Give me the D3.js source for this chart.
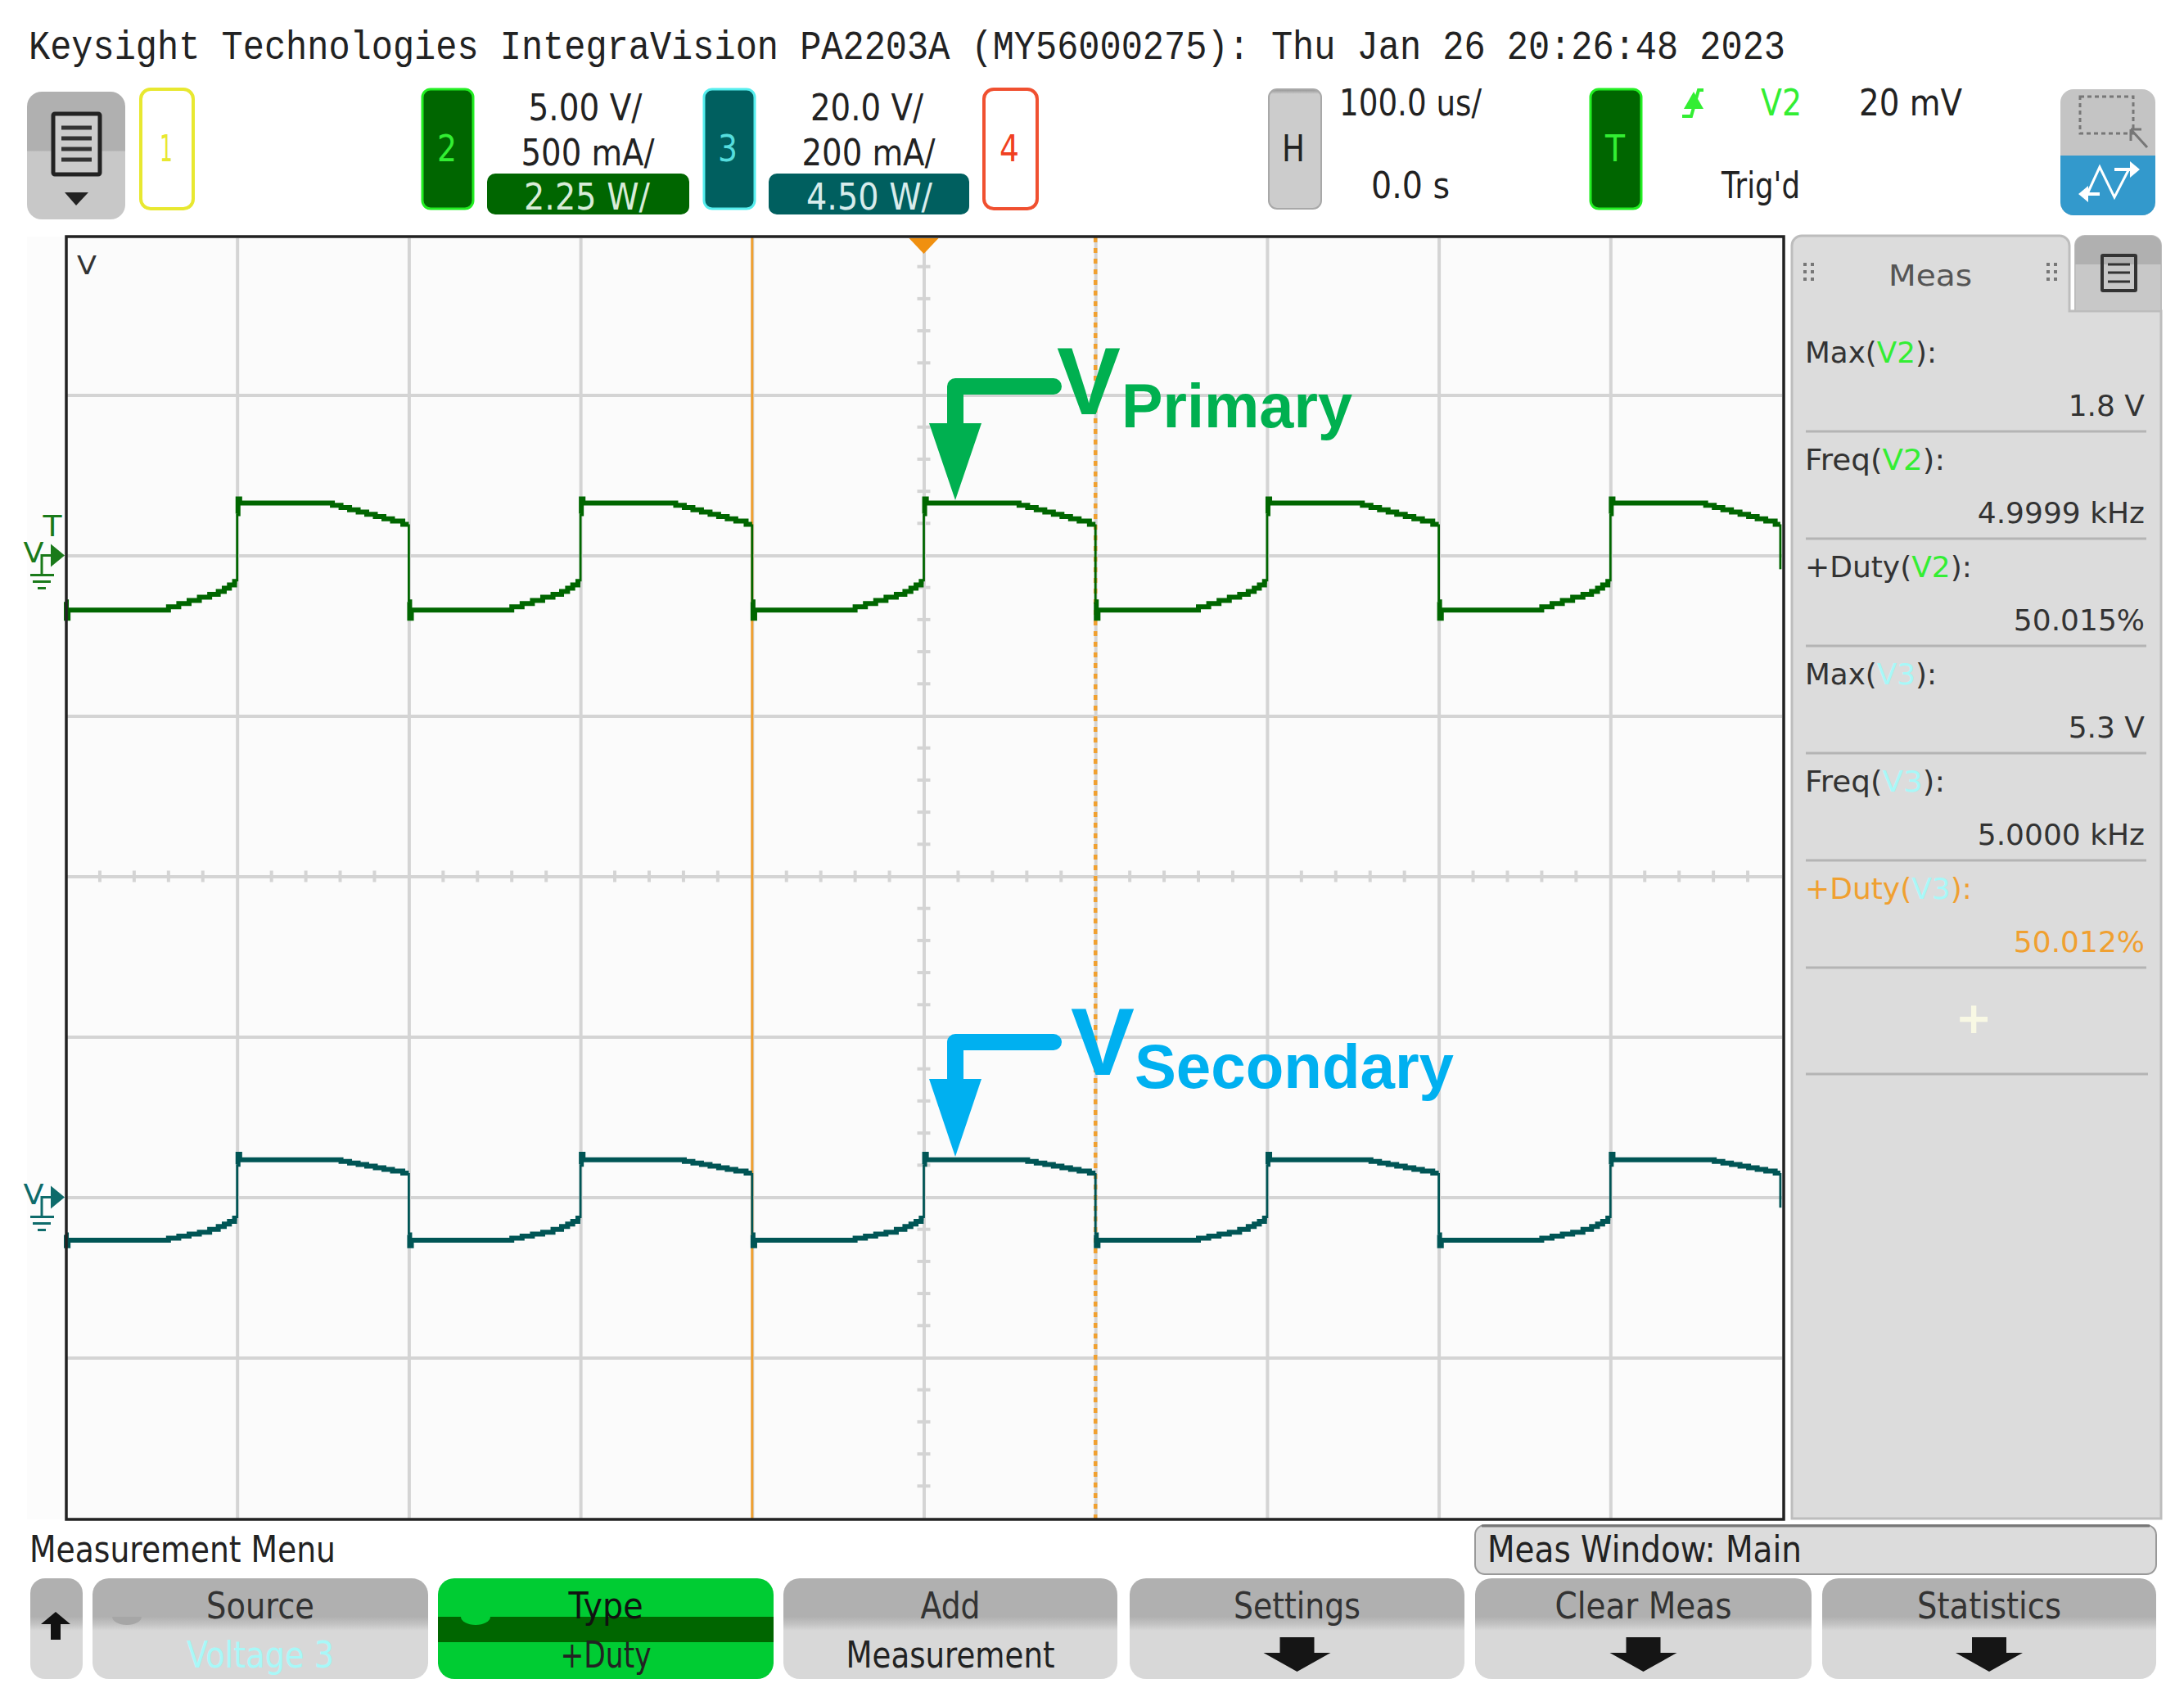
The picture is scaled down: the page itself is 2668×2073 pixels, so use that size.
<!DOCTYPE html>
<html>
<head>
<meta charset="utf-8">
<title>IntegraVision PA2203A</title>
<script src="https://cdn.jsdelivr.net/npm/d3@7"></script>
<style>
  html, body { margin: 0; padding: 0; background: #fff; }
  svg { display: block; }
</style>
</head>
<body>
<div id="chart"></div>
<script>
// Sweep: time in us, channel 2 and channel 3 in volts.
// A repeated time is a switching edge, drawn thin like the scope does.
const timeUs = [
  -500,-499,-498,-443,-437,-431,-425,-419,-413,-409,-406,-403,-400,-400,-399,-398,-347,-342,-337,-332,-327,-322,-317,-312,-307,-300,
  -300,-299,-298,-243,-237,-231,-225,-219,-213,-209,-206,-203,-200,-200,-199,-198,-147,-142,-137,-132,-127,-122,-117,-112,-107,-100,
  -100,-99,-98,-43,-37,-31,-25,-19,-13,-9,-6,-3,0,0,1,2,53,58,63,68,73,78,83,88,93,100,
  100,101,102,157,163,169,175,181,187,191,194,197,200,200,201,202,253,258,263,268,273,278,283,288,293,300,
  300,301,302,357,363,369,375,381,387,391,394,397,400,400,401,402,453,458,463,468,473,478,483,488,493,499,
  499
];
const primaryV = [
  -1.45,-1.96,-1.7,-1.7,-1.6,-1.5,-1.4,-1.3,-1.21,-1.12,-1.02,-0.92,-0.81,1.3,1.76,1.63,1.63,1.56,1.49,1.42,1.35,1.28,1.21,1.14,1.07,0.97,
  -1.45,-1.96,-1.7,-1.7,-1.6,-1.5,-1.4,-1.3,-1.21,-1.12,-1.02,-0.92,-0.81,1.3,1.76,1.63,1.63,1.56,1.49,1.42,1.35,1.28,1.21,1.14,1.07,0.97,
  -1.45,-1.96,-1.7,-1.7,-1.6,-1.5,-1.4,-1.3,-1.21,-1.12,-1.02,-0.92,-0.81,1.3,1.76,1.63,1.63,1.56,1.49,1.42,1.35,1.28,1.21,1.14,1.07,0.97,
  -1.45,-1.96,-1.7,-1.7,-1.6,-1.5,-1.4,-1.3,-1.21,-1.12,-1.02,-0.92,-0.81,1.3,1.76,1.63,1.63,1.56,1.49,1.42,1.35,1.28,1.21,1.14,1.07,0.97,
  -1.45,-1.96,-1.7,-1.7,-1.6,-1.5,-1.4,-1.3,-1.21,-1.12,-1.02,-0.92,-0.81,1.3,1.76,1.63,1.63,1.56,1.49,1.42,1.35,1.28,1.21,1.14,1.07,0.97,
  -0.43
];
const secondaryV = [
  -4.7,-6.05,-5.36,-5.36,-5.1,-4.85,-4.6,-4.35,-4.0,-3.65,-3.35,-3.0,-2.6,4.1,5.36,4.67,4.67,4.67,4.47,4.27,4.07,3.87,3.67,3.47,3.27,3.01,
  -4.7,-6.05,-5.36,-5.36,-5.1,-4.85,-4.6,-4.35,-4.0,-3.65,-3.35,-3.0,-2.6,4.1,5.36,4.67,4.67,4.67,4.47,4.27,4.07,3.87,3.67,3.47,3.27,3.01,
  -4.7,-6.05,-5.36,-5.36,-5.1,-4.85,-4.6,-4.35,-4.0,-3.65,-3.35,-3.0,-2.6,4.1,5.36,4.67,4.67,4.67,4.47,4.27,4.07,3.87,3.67,3.47,3.27,3.01,
  -4.7,-6.05,-5.36,-5.36,-5.1,-4.85,-4.6,-4.35,-4.0,-3.65,-3.35,-3.0,-2.6,4.1,5.36,4.67,4.67,4.67,4.47,4.27,4.07,3.87,3.67,3.47,3.27,3.01,
  -4.7,-6.05,-5.36,-5.36,-5.1,-4.85,-4.6,-4.35,-4.0,-3.65,-3.35,-3.0,-2.6,4.1,5.36,4.67,4.67,4.67,4.47,4.27,4.07,3.87,3.67,3.47,3.27,3.01,
  -1.3
];

const gridTimes = [-400, -300, -200, -100, 0, 100, 200, 300, 400];
const gridDivs = [1, 2, 3, 4, 5, 6, 7];
const cursorTimes = [-100, 100];

const titleText = "Keysight Technologies IntegraVision PA2203A (MY56000275): Thu Jan 26 20:26:48 2023";
const measLabels = ["Max", "Freq", "+Duty", "Max", "Freq", "+Duty"];
const measSources = ["V2", "V2", "V2", "V3", "V3", "V3"];
const measValues = ["1.8 V", "4.9999 kHz", "50.015%", "5.3 V", "5.0000 kHz", "50.012%"];
const softKeyTop = ["Source", "Type", "Add", "Settings", "Clear Meas", "Statistics"];
const softKeyBottom = ["Voltage 3", "+Duty", "Measurement", "", "", ""];

const W = 2668, H = 2073;
const SANS = "'DejaVu Sans', sans-serif";
const GREEN = "#006600", TEAL = "#005f5f", LIME = "#33ee33", CYAN = "#a8f8f8", ORANGE = "#f0a030";

const svg = d3.select("#chart").append("svg").attr("width", W).attr("height", H);
svg.append("rect").attr("width", W).attr("height", H).attr("fill", "#fff");
const defs = svg.append("defs");

function vGradient(id, stops) {
  const g = defs.append("linearGradient").attr("id", id).attr("x1", 0).attr("x2", 0).attr("y1", 0).attr("y2", 1);
  stops.forEach(s => g.append("stop").attr("offset", s[0]).attr("stop-color", s[1]));
}
vGradient("softKey", [[0, "#b0b0b0"], [0.38, "#b0b0b0"], [0.46, "#c4c4c4"], [0.52, "#d8d8d8"], [1, "#d8d8d8"]]);
vGradient("menuKey", [[0, "#b0b0b0"], [0.46, "#b0b0b0"], [0.47, "#c8c8c8"], [1, "#c8c8c8"]]);
vGradient("hKey", [[0, "#909090"], [0.04, "#cccccc"], [1, "#cccccc"]]);

// fit text to a measured width, the scope font is narrower than anything installed
function label(x, baseline, str, width, opts = {}) {
  const t = svg.append("text")
    .attr("x", x)
    .attr("y", baseline)
    .attr("font-family", opts.family || SANS)
    .attr("font-size", opts.size || 44)
    .attr("font-weight", opts.weight || "normal")
    .attr("fill", opts.fill || "#222")
    .text(str);
  if (width) t.attr("textLength", width).attr("lengthAdjust", "spacingAndGlyphs");
  return t;
}
const centered = (cx, baseline, str, width, opts) => label(cx - width / 2, baseline, str, width, opts);

function box(x0, y0, x1, y1, r, fill, stroke, sw = 3) {
  return svg.append("rect")
    .attr("x", x0).attr("y", y0)
    .attr("width", x1 - x0).attr("height", y1 - y0)
    .attr("rx", r)
    .attr("fill", fill)
    .attr("stroke", stroke || "none")
    .attr("stroke-width", stroke ? sw : 0);
}

// ---- header
label(35, 72, titleText, 2146, { family: "'Liberation Mono', monospace", size: 50, fill: "#222" });

box(33, 112, 153, 268, 18, "url(#menuKey)");
box(65, 139, 122, 213, 2, "#ccc", "#222", 5);
[156, 169, 182, 195].forEach(y => {
  svg.append("line").attr("x1", 75).attr("x2", 112).attr("y1", y).attr("y2", y).attr("stroke", "#333").attr("stroke-width", 5);
});
svg.append("path").attr("d", "M79 235 H108 L93 251 Z").attr("fill", "#222");

box(172, 109, 236, 255, 12, "#fff", "#e8e830", 4);
centered(203, 197, "1", 16, { fill: "#e8e830" });
box(516, 109, 578, 255, 10, GREEN, "#22ee22", 3);
centered(546, 197, "2", 24, { fill: LIME });
centered(715, 147, "5.00 V/", 139);
centered(718, 202, "500 mA/", 163);
box(595, 212, 842, 262, 10, GREEN);
centered(717, 256, "2.25 W/", 154, { fill: "#d8ecd8" });

box(860, 109, 922, 255, 10, TEAL, "#55eeee", 3);
centered(889, 197, "3", 24, { fill: "#55dddd" });
centered(1059, 147, "20.0 V/", 138);
centered(1061, 202, "200 mA/", 163);
box(939, 212, 1184, 262, 10, TEAL);
centered(1062, 256, "4.50 W/", 154, { fill: "#d8ecec" });
box(1202, 109, 1267, 255, 12, "#fff", "#f05030", 4);
centered(1233, 197, "4", 24, { fill: "#f04020" });

box(1550, 109, 1614, 255, 10, "url(#hKey)", "#a8a8a8", 2);
centered(1580, 197, "H", 28, { fill: "#222" });
label(1636, 141, "100.0 us/", 174);
label(1675, 242, "0.0 s", 96);

box(1943, 109, 2005, 255, 10, GREEN, "#22ee22", 3);
centered(1973, 197, "T", 24, { size: 44, weight: "normal", fill: LIME });
svg.append("path").attr("d", "M2055 142 H2066 L2075 110 H2081").attr("fill", "none").attr("stroke", LIME).attr("stroke-width", 4);
svg.append("path").attr("d", "M2069 112 L2081 133 H2057 Z").attr("fill", LIME);
label(2151, 141, "V2", 50, { fill: LIME });
label(2271, 141, "20 mV", 126);
label(2103, 242, "Trig'd", 96);

box(2517, 109, 2633, 263, 16, "#c4c4c4");
svg.append("path").attr("d", "M2517 190 H2633 V247 a16 16 0 0 1 -16 16 H2533 a16 16 0 0 1 -16 -16 Z").attr("fill", "#3399cc");
svg.append("rect").attr("x", 2541).attr("y", 118).attr("width", 65).attr("height", 45)
  .attr("fill", "none").attr("stroke", "#777").attr("stroke-width", 3).attr("stroke-dasharray", "5 4");
svg.append("path").attr("d", "M2603 158 L2623 180 M2603 158 V172 M2603 158 H2616").attr("fill", "none").attr("stroke", "#777").attr("stroke-width", 3);
svg.append("path").attr("d", "M2548 241 L2565 204 L2583 241 L2600 208").attr("fill", "none").attr("stroke", "#fff").attr("stroke-width", 3);
svg.append("path").attr("d", "M2583 205 H2602 V197 L2614 207 L2602 217 V209 H2583 Z M2565 235 H2551 V227 L2539 237 L2551 247 V239 H2565 Z").attr("fill", "#fff");

// ---- screen
const screenLeft = 80, screenRight = 2177, divTop = 286.5, divBottom = 1854.5;
const x = d3.scaleLinear().domain([-500, 500]).range([screenLeft, screenRight]);
const yDiv = d3.scaleLinear().domain([0, 8]).range([divTop, divBottom]);
// 5.00 V/div ground at 2 div, 20.0 V/div ground at 6 div
const yPrimary = d3.scaleLinear().domain([10, -30]).range([divTop, divBottom]);
const ySecondary = d3.scaleLinear().domain([120, -40]).range([divTop, divBottom]);

svg.append("rect").attr("x", 33).attr("y", 289).attr("width", 47).attr("height", 1567).attr("fill", "#fcfcfc");
svg.append("rect").attr("x", 81).attr("y", 290).attr("width", 2098).attr("height", 1565).attr("fill", "#fbfbfb");

const vGrid = svg.append("g").attr("transform", `translate(0,${divBottom})`)
  .call(d3.axisBottom(x).tickValues(gridTimes).tickSize(-(divBottom - 291)).tickFormat(""));
vGrid.select(".domain").remove();
vGrid.selectAll("line").attr("stroke", "#d4d4d4").attr("stroke-width", 4);

const hGrid = svg.append("g").attr("transform", `translate(${screenLeft},0)`)
  .call(d3.axisRight(yDiv).tickValues(gridDivs).tickSize(screenRight - screenLeft).tickFormat(""));
hGrid.select(".domain").remove();
hGrid.selectAll("line").attr("stroke", "#d4d4d4").attr("stroke-width", 4);

// minor ticks on the centre cross
const xMinor = d3.range(-480, 500, 20).filter(t => t % 100 !== 0);
const yMinor = d3.range(0.2, 8, 0.2).filter(d => Math.abs(d - Math.round(d)) > 0.01);
svg.append("g").selectAll("line").data(xMinor).join("line")
  .attr("x1", d => x(d)).attr("x2", d => x(d))
  .attr("y1", yDiv(4) - 7).attr("y2", yDiv(4) + 7)
  .attr("stroke", "#d4d4d4").attr("stroke-width", 4);
svg.append("g").selectAll("line").data(yMinor).join("line")
  .attr("x1", x(0) - 8).attr("x2", x(0) + 8)
  .attr("y1", d => yDiv(d)).attr("y2", d => yDiv(d))
  .attr("stroke", "#d4d4d4").attr("stroke-width", 4);

// measurement cursors
svg.append("line").attr("x1", x(cursorTimes[0])).attr("x2", x(cursorTimes[0])).attr("y1", 290).attr("y2", 1855)
  .attr("stroke", ORANGE).attr("stroke-width", 3);
svg.append("line").attr("x1", x(cursorTimes[1])).attr("x2", x(cursorTimes[1])).attr("y1", 290).attr("y2", 1855)
  .attr("stroke", ORANGE).attr("stroke-width", 4.5).attr("stroke-dasharray", "6 7");

function drawTrace(values, yScale, color) {
  const pts = timeUs.map((t, i) => [x(t), yScale(values[i])]);
  const runs = [];
  let run = [pts[0]];
  for (let i = 1; i < pts.length; i++) {
    if (timeUs[i] === timeUs[i - 1]) {
      // switching edge
      svg.append("line")
        .attr("x1", pts[i - 1][0]).attr("x2", pts[i][0])
        .attr("y1", pts[i - 1][1]).attr("y2", pts[i][1])
        .attr("stroke", color).attr("stroke-width", 2.8);
      runs.push(run);
      run = [pts[i]];
    } else {
      run.push(pts[i]);
    }
  }
  runs.push(run);
  const step = d3.line().curve(d3.curveStep);
  svg.append("g").selectAll("path").data(runs.filter(r => r.length > 1)).join("path")
    .attr("d", step)
    .attr("fill", "none")
    .attr("stroke", color)
    .attr("stroke-width", 6);
}
drawTrace(primaryV, yPrimary, GREEN);
drawTrace(secondaryV, ySecondary, "#005555");

// screen frame goes over the traces
svg.append("path")
  .attr("d", `M81 1856 V289 H2179 V1856 Z`)
  .attr("fill", "none").attr("stroke", "#222").attr("stroke-width", 3.5);
svg.append("path").attr("d", `M${x(0) - 18} 291 H${x(0) + 18} L${x(0)} 310 Z`).attr("fill", "#f09010");
centered(106, 335, "V", 24, { size: 32, fill: "#333" });

// ground markers at the left of the screen
function groundMarker(yPos, color, withT) {
  const g = svg.append("g").attr("fill", color).attr("stroke", color);
  g.append("path").attr("d", `M62 ${yPos - 14} L79 ${yPos} L62 ${yPos + 14} Z`).attr("stroke", "none");
  g.append("path").attr("d", `M62 ${yPos} H51 V${yPos + 24} M37 ${yPos + 24} H66 M40 ${yPos + 32} H62 M46 ${yPos + 40} H56`)
    .attr("fill", "none").attr("stroke-width", 3);
  centered(41, yPos + 8, "V", 25, { size: 34, fill: color });
  if (withT) centered(64, yPos - 24, "T", 23, { size: 36, fill: color });
}
groundMarker(yPrimary(0), "#1a7a1a", true);
groundMarker(ySecondary(0), "#0e6b6b", false);

// annotations on top of the screen
function annotation(yStem, yHeadTop, yTip, vX, vBaseline, sub, subX, subWidth, color) {
  svg.append("path")
    .attr("d", `M1287 ${yStem} H1167 V${yHeadTop + 4}`)
    .attr("fill", "none").attr("stroke", color).attr("stroke-width", 20)
    .attr("stroke-linecap", "round").attr("stroke-linejoin", "round");
  svg.append("path").attr("d", `M1135 ${yHeadTop} H1199 L1167 ${yTip} Z`).attr("fill", color);
  const boldSans = "'Liberation Sans', Arial, sans-serif";
  label(vX, vBaseline, "V", 78, { family: boldSans, size: 117, weight: "bold", fill: color });
  label(subX, vBaseline + 16, sub, subWidth, { family: boldSans, size: 76, weight: "bold", fill: color });
}
annotation(472, 517, 611, 1291, 506, "Primary", 1370, 282, "#00b050");
annotation(1273, 1318, 1413, 1308, 1313, "Secondary", 1386, 390, "#00b0f0");

// ---- measurement panel
svg.append("path")
  .attr("d", "M2189 1855 V300 a12 12 0 0 1 12 -12 H2516 a12 12 0 0 1 12 12 V380 H2640 V1855 Z")
  .attr("fill", "#dcdcdc").attr("stroke", "#bdbdbd").attr("stroke-width", 3);
svg.append("path")
  .attr("d", "M2535 380 V300 a12 12 0 0 1 12 -12 H2628 a12 12 0 0 1 12 12 V380 Z")
  .attr("fill", "#c8c8c8").attr("stroke", "#bdbdbd").attr("stroke-width", 2);
svg.append("path")
  .attr("d", "M2535 323 V300 a12 12 0 0 1 12 -12 H2628 a12 12 0 0 1 12 12 V323 Z")
  .attr("fill", "#b0b0b0");
box(2568, 312, 2609, 355, 1, "none", "#333", 4);
[323, 333, 344].forEach(y => {
  svg.append("line").attr("x1", 2575).attr("x2", 2602).attr("y1", y).attr("y2", y).attr("stroke", "#333").attr("stroke-width", 3);
});
label(2307, 349, "Meas", 102, { size: 36, fill: "#555" });
[2203, 2500].forEach(gx => {
  d3.range(3).forEach(r => d3.range(2).forEach(c => {
    svg.append("rect").attr("x", gx + c * 9).attr("y", 321 + r * 9).attr("width", 4).attr("height", 4).attr("fill", "#777");
  }));
});

const labelWidths = { Max: 161, Freq: 171, "+Duty": 204 };
measLabels.forEach((name, i) => {
  const active = i === measLabels.length - 1;
  const textFill = active ? ORANGE : "#333";
  const t = label(2205, 443 + i * 131, null, labelWidths[name], { size: 36, fill: textFill });
  t.append("tspan").text(name + "(");
  t.append("tspan").attr("fill", measSources[i] === "V2" ? LIME : CYAN).text(measSources[i]);
  t.append("tspan").text("):");
  label(2620, 508 + i * 131, measValues[i], null, { size: 36, fill: textFill }).attr("text-anchor", "end");
  svg.append("line").attr("x1", 2206).attr("x2", 2622).attr("y1", 527 + i * 131).attr("y2", 527 + i * 131)
    .attr("stroke", "#b4b4b4").attr("stroke-width", 3);
});
label(2411, 1262, "+", null, { size: 54, weight: "bold", fill: "#f8f8e4" }).attr("text-anchor", "middle");
svg.append("line").attr("x1", 2206).attr("x2", 2624).attr("y1", 1312).attr("y2", 1312).attr("stroke", "#b4b4b4").attr("stroke-width", 3);

// ---- softkeys
label(36, 1908, "Measurement Menu", 374);
box(1802, 1863, 2634, 1923, 12, "#dcdcdc", "#999", 2);
svg.append("line").attr("x1", 1810).attr("x2", 2626).attr("y1", 1864).attr("y2", 1864).attr("stroke", "#777").attr("stroke-width", 3);
label(1817, 1908, "Meas Window: Main", 384);

box(37, 1928, 101, 2051, 18, "url(#softKey)");
svg.append("path").attr("d", "M68 1969 L86 1984 H74 V2003 H62 V1984 H50 Z").attr("fill", "#111");

const keyLeft = [113, 535, 957, 1380, 1802, 2226];
const keyRight = [523, 945, 1365, 1789, 2213, 2634];
const keyTopWidth = [132, 91, 73, 155, 216, 176];
const keyBottomWidth = [180, 111, 255, 0, 0, 0];
softKeyTop.forEach((str, i) => {
  const cx = (keyLeft[i] + keyRight[i]) / 2;
  const isType = str === "Type";
  box(keyLeft[i], 1928, keyRight[i], 2051, 20, isType ? "#00cc33" : "url(#softKey)");
  if (isType) {
    svg.append("rect").attr("x", keyLeft[i]).attr("y", 1975).attr("width", keyRight[i] - keyLeft[i]).attr("height", 31).attr("fill", GREEN);
    svg.append("path").attr("d", `M${keyLeft[i] + 28} 1975 a18 10 0 0 0 36 0 Z`).attr("fill", "#00cc33");
  }
  if (str === "Source") {
    svg.append("path").attr("d", `M${keyLeft[i] + 24} 1975 a18 10 0 0 0 36 0 Z`).attr("fill", "#a6a6a6");
  }
  centered(cx, 1977, str, keyTopWidth[i], { fill: isType ? "#111" : "#333" });
  if (softKeyBottom[i]) {
    centered(cx, 2037, softKeyBottom[i], keyBottomWidth[i], { fill: str === "Source" ? CYAN : "#222" });
  } else {
    svg.append("path")
      .attr("d", `M${cx - 21} 2000 H${cx + 21} V2019 H${cx + 41} L${cx} 2042 L${cx - 41} 2019 H${cx - 21} Z`)
      .attr("fill", "#151515");
  }
});
</script>
</body>
</html>
